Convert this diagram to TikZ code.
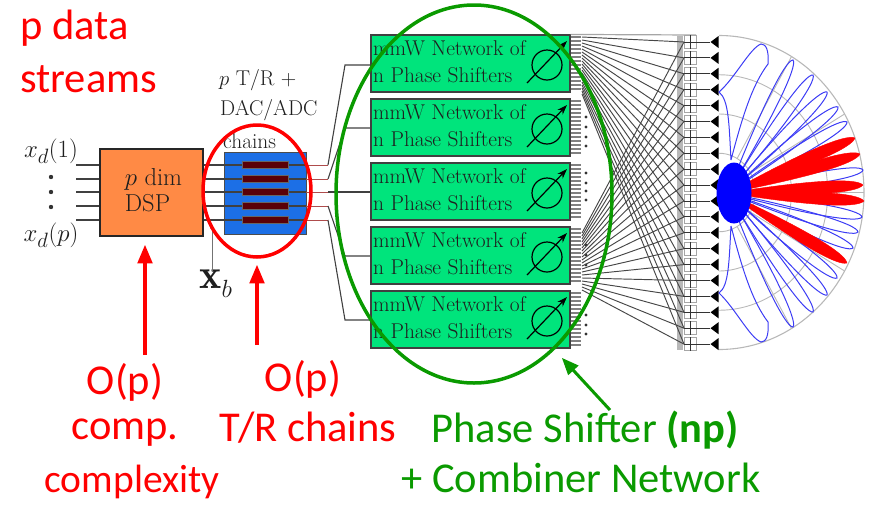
\documentclass[tikz,border=0pt]{standalone}
\usepackage{fontspec}
\newfontfamily\slidefont{Carlito}
\usetikzlibrary{arrows}
\usetikzlibrary{arrows.meta}
\usetikzlibrary{calc}
\usetikzlibrary{shapes.geometric}
\definecolor{dspcolor}{HTML}{FF8A45}
\definecolor{chaincolor}{HTML}{1C6FE6}
\definecolor{barcolor}{HTML}{5A0008}
\definecolor{netcolor}{HTML}{00E47C}
\definecolor{ringgreen}{HTML}{0A9A00}
\definecolor{lobeblue}{HTML}{3C3CF5}
\tikzset{
    redlabel/.style={font=\slidefont\fontsize{42.5}{42.5}\selectfont,text=red,inner sep=0pt},
    greenlabel/.style={font=\slidefont\fontsize{42.5}{42.5}\selectfont,text=ringgreen,inner sep=0pt},
    smalllabel/.style={font=\fontsize{21.4}{21.4}\selectfont,text=black!88,inner sep=0pt},
    dspbox/.style={draw=black!85,line width=1.2pt,fill=dspcolor,minimum width=103pt,minimum height=87pt,inner sep=0pt},
    chainbox/.style={draw=black!70,line width=1pt,fill=chaincolor,minimum width=82pt,minimum height=82pt,inner sep=0pt},
    chainbar/.style={fill=barcolor,draw=black!60,line width=.4pt,minimum width=46pt,minimum height=7pt,inner sep=0pt},
    netbox/.style={draw=black!75,line width=1.1pt,fill=netcolor,minimum width=199pt,minimum height=57pt,inner sep=0pt},
    elembox/.style={draw=black!35,line width=1pt,fill=white,minimum width=12pt,minimum height=13pt,inner sep=0pt},
    antenna/.style={isosceles triangle,isosceles triangle stretches,shape border rotate=180,fill=black,minimum width=12pt,minimum height=8pt,inner sep=0pt},
    wire/.style={draw=black!75,line width=1.1pt},
    stub/.style={draw=black!50,line width=1.6pt},
    fanline/.style={draw=black!72,line width=.95pt},
    redarrow/.style={-triangle 45,draw=red,line width=3.4pt},
    lobe/.style={draw=lobeblue,line width=1pt},
    redlobe/.style={draw=red,fill=red,line width=.4pt},
    gridline/.style={draw=black!28,line width=.9pt},
}
\begin{document}
\begin{tikzpicture}[x=1pt,y=-1pt]
    \useasboundingbox (0,0) rectangle (870,504);

    % baseband side
    \node[dspbox] (dsp) at (151.5,192.5) {};
    \node[smalllabel,font=\fontsize{24.5}{26}\selectfont,align=left] (dsptext) at (153.5,190) {$p$ dim\\DSP};
    \node[chainbox] (chains) at (265,193) {};
    \foreach \i/\y in {1/165,2/179,3/192,4/206,5/220}
    {
        \coordinate (in\i) at (76,\y);
        \coordinate (out\i) at (328,\y);
        \coordinate (pastbox\i) at (306,\y);
        \draw[wire] (in\i) -- (in\i -| dsp.west);
        \draw[wire] (dsp.east |- in\i) -- (pastbox\i);
        \draw[draw=red!55!black!70,line width=1pt] (pastbox\i) -- (out\i);
        \node[chainbar] (bar\i) at (265,\y) {};
    }
    \node[smalllabel] (xd1) at (51,151) {\fontsize{32}{32}\selectfont$x_d(1)$};
    \node[smalllabel] (xdp) at (51,235) {\fontsize{32}{32}\selectfont$x_d(p)$};
    \foreach \y [count=\i] in {177,192,207}
        \fill[black!80] (51,\y) circle (2.2pt);
    \coordinate (tap) at (212,228);
    \fill[black!70] (tap) circle (1.8pt);
    \node[smalllabel] (xb) at (216,284) {\fontsize{42}{42}\selectfont$\mathbf{x}_b$};
    \draw[draw=black!55,line width=1pt] (tap) -- (212,272);
    \node[smalllabel,anchor=west] (trline1) at (219,80) {$p$ T/R +};
    \node[smalllabel,anchor=west] (trline2) at (220,110) {DAC/ADC};
    \node[smalllabel,anchor=west] (trline3) at (223,141) {chains};

    % phase shifter networks
    \foreach \i/\t in {1/35,2/99,3/163,4/227,5/291}
    {
        \foreach \s in {0,...,13}
            \draw[stub] (570,\t+2+\s*4) -- (581,\t+2+\s*4);
        \node[netbox] (net\i) at (470.5,\t+28.5) {};
        \node[smalllabel,anchor=west] (mmw\i) at (373,\t+13) {mmW Network of};
        \node[smalllabel,anchor=west] (nps\i) at (373,\t+40) {n Phase Shifters};
        \node[draw=black,line width=1.2pt,circle,minimum size=30pt,inner sep=0pt] (ring\i) at (547,\t+30) {};
        \draw[-{Stealth[length=10pt,width=7pt]},line width=1.2pt] (527,\t+48) -- (567,\t+6);
    }
    \foreach \t in {117,127,137,146,173,183,191,200,245,255,265,315,325,334}
        \fill[black!80] (586,\t) circle (1.7pt);
    \draw[wire] (out1) -- (345,65) -- (net1.west |- 0,65);
    \draw[wire] (out2) -- (345,128) -- (net2.west |- 0,128);
    \draw[wire] (out3) -- (net3.west |- out3);
    \draw[wire] (out4) -- (345,256) -- (net4.west |- 0,256);
    \draw[wire] (out5) -- (345,320) -- (net5.west |- 0,320);

    % combiner column and antennas
    \fill[black!28] (677,36) rectangle (683,350);
    \draw[draw=black!35,line width=1.2pt] (net1.north east) -- (696,35);
    \foreach \j in {0,...,19}
    {
        \pgfmathsetmacro{\ey}{42+\j*15.9}
        \node[elembox] (elem\j) at (690.5,\ey) {};
        \draw[black!80,line width=.9pt] (elem\j.north) -- (elem\j.south);
        \draw[black!80,line width=.9pt] (elem\j.west) -- (elem\j.east);
        \node[antenna] (ant\j) at (715.5,\ey) {};
        \draw[black!80,line width=1pt] (elem\j.east) -- (ant\j.west);
        \coordinate (upper\j) at (582,37+\j*3);
        \coordinate (lower\j) at (582,233+\j*3);
        \draw[fanline] (upper\j) -- (elem\j.west);
        \draw[fanline] (lower\j) -- (elem\j.west);
    }

    % beam pattern
    \coordinate (origin) at (719,192.5);
    \foreach \r in {.25,.5,.75}
        \draw[gridline] (719,192.5-157*\r) arc[start angle=-90,end angle=90,x radius=145*\r,y radius=157*\r];
    \draw[gridline,line width=1.1pt] (719,35.5) arc[start angle=-90,end angle=90,x radius=145,y radius=157];
    \foreach \a in {-60,-30,0,30,60}
        \draw[gridline] ($(origin)+(\a:36 and -39)$) -- ($(origin)+(\a:145 and -157)$);
    \foreach \tx/\ty in {793/60,813/75,827/92,838/107,847/122,863/170,862/217,858/232,853/248,837/278,827/295,813/312,793/327}
    {
        \pgfmathsetmacro{\lobelen}{veclen(\tx-728,\ty-193)}
        \pgfmathsetmacro{\lobeang}{atan2(193-\ty,\tx-728)}
        \draw[lobe,shift={(728,193)},rotate=\lobeang] (0,0) .. controls (.6*\lobelen,7.5) and (.98*\lobelen,7) .. (\lobelen,0) .. controls (.98*\lobelen,-7) and (.6*\lobelen,-7.5) .. (0,0);
    }
    \foreach \tx/\ty in {855/138,860/154,863/185,864/201,847/263}
    {
        \pgfmathsetmacro{\lobelen}{veclen(\tx-728,\ty-193)}
        \pgfmathsetmacro{\lobeang}{atan2(193-\ty,\tx-728)}
        \draw[redlobe,shift={(728,193)},rotate=\lobeang] (0,0) .. controls (.6*\lobelen,8) and (.95*\lobelen,8) .. (\lobelen,0) .. controls (.95*\lobelen,-8) and (.6*\lobelen,-8) .. (0,0);
    }
    \draw[lobe] (731,160) .. controls (742,118) and (752,85) .. (768,64) .. controls (769,50) and (766,44) .. (761,44) .. controls (750,48) and (735,78) .. (719,92) .. controls (729,100) and (729,125) .. (731,160);
    \draw[lobe] (731,226) .. controls (742,268) and (752,301) .. (768,322) .. controls (769,336) and (766,342) .. (761,342) .. controls (750,338) and (735,308) .. (719,293) .. controls (729,286) and (729,261) .. (731,226);
    \node[ellipse,fill=blue,minimum width=35pt,minimum height=61pt,inner sep=0pt] (blob) at (734,193) {};

    % callouts
    \draw[draw=red,line width=3.5pt] (257,191) ellipse (54 and 66);
    \draw[draw=ringgreen,line width=3.5pt] (474,194) ellipse (138 and 189);
    \node[redlabel,anchor=west] (pdata) at (20,28) {p data};
    \node[redlabel,anchor=west] (streams) at (20,79) {streams};
    \node[redlabel] (opa) at (125,382) {O(p)};
    \node[redlabel] (compa) at (125,433) {comp.};
    \node[redlabel,font=\slidefont\fontsize{39.5}{39.5}\selectfont] (compb) at (132,482) {complexity};
    \node[redlabel] (opb) at (303,379) {O(p)};
    \node[redlabel] (trchains) at (308,428) {T/R chains};
    \node[greenlabel] (shifter) at (585,430) {Phase Shifter \textbf{(np)}};
    \node[greenlabel] (combiner) at (581,478) {+ Combiner Network};
    \coordinate (dsptip) at (145,245);
    \coordinate (dspfoot) at (145,355);
    \coordinate (chaintip) at (257,265);
    \coordinate (chainfoot) at (257,345);
    \coordinate (greentip) at (562,358);
    \coordinate (greenfoot) at (610,410);
    \draw[redarrow] (dspfoot) -- (dsptip);
    \draw[redarrow] (chainfoot) -- (chaintip);
    \draw[redarrow,draw=ringgreen,line width=3pt] (greenfoot) -- (greentip);
\end{tikzpicture}
\end{document}
